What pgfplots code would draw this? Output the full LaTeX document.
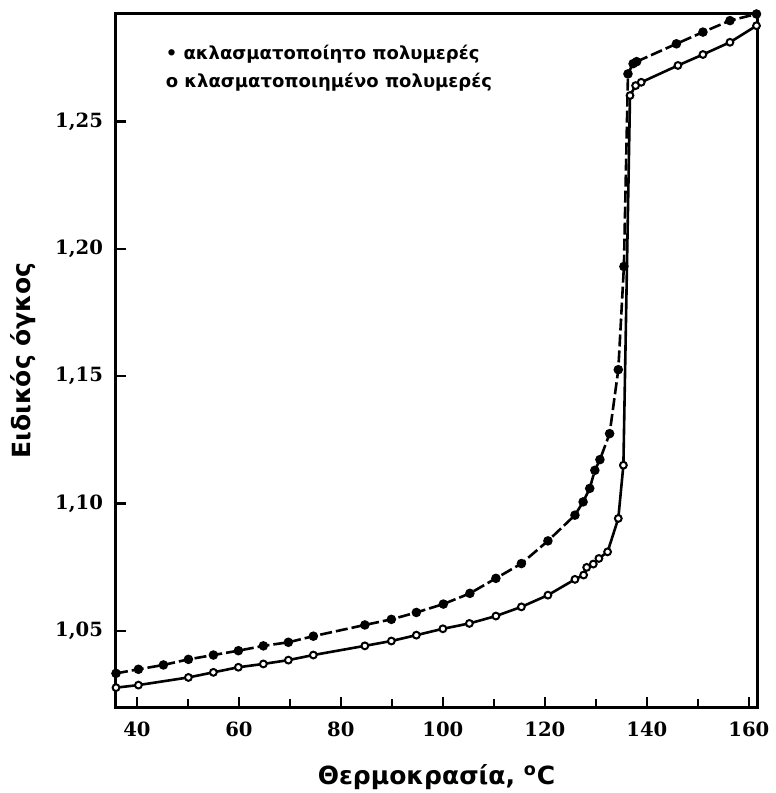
\documentclass[border=0pt]{standalone}
\usepackage{fontspec}
\setmainfont{DejaVu Sans}
\newfontfamily\tickfont{DejaVu Serif}
\usepackage{pgfplots}
\pgfplotsset{compat=1.18}
\begin{document}
\begin{tikzpicture}
\begin{axis}[
  scale only axis,
  width=320.5pt, height=346.5pt,
  xmin=35.9, xmax=161.6,
  ymin=1.0202, ymax=1.2922,
  xtick={40,60,...,160},
  minor xtick={50,70,...,150},
  ytick={1.05,1.10,...,1.26},
  tick align=inside,
  xtick pos=bottom, ytick pos=left,
  major tick length=5pt, minor tick length=4pt,
  every tick/.style={black, line width=1.2pt},
  axis line style={line width=1.5pt},
  /pgf/number format/assume math mode=true,
  y tick label style={/pgf/number format/use comma, /pgf/number format/fixed,
    /pgf/number format/fixed zerofill, /pgf/number format/precision=2, xshift=-3pt},
  tick label style={font=\tickfont\bfseries\fontsize{9.8}{11}\selectfont},
  x tick label style={yshift=-4pt},
  xlabel={\bfseries\fontsize{12.5}{14}\selectfont Θερμοκρασία, \textsuperscript{o}C},
  ylabel={\bfseries\fontsize{12.5}{14}\selectfont Ειδικός όγκος},
  xlabel style={yshift=-7pt},
  ylabel style={yshift=3pt},
  clip=false,
]

% ακλασματοποίητο (filled)
\addplot[black, line width=1.3pt, dash pattern=on 6pt off 2pt,
  mark=*, mark size=1.7pt, mark options={solid, fill=black}] coordinates {
  (35.9,1.0334) (40.3,1.0350) (45.2,1.0367) (50.1,1.0389) (55.0,1.0406)
  (59.9,1.0423) (64.8,1.0442) (69.7,1.0456) (74.6,1.0480) (84.7,1.0524)
  (89.9,1.0546) (94.8,1.0573) (100.1,1.0606) (105.3,1.0648) (110.4,1.0707)
  (115.4,1.0765) (120.6,1.0854) (125.9,1.0955) (127.5,1.1007) (128.8,1.1060)
  (129.8,1.1131) (130.8,1.1173) (132.7,1.1275) (134.4,1.1526) (135.5,1.1931)
  (136.3,1.2687) (137.3,1.2727) (138.0,1.2735) (145.8,1.2805) (151.0,1.2851)
  (156.3,1.2896) (161.5,1.2922)
};

% κλασματοποιημένο (open)
\addplot[black, line width=1.3pt,
  mark=*, mark size=1.7pt, mark options={solid, fill=white, line width=1pt}] coordinates {
  (35.9,1.0278) (40.3,1.0288) (50.1,1.0318) (55.0,1.0338) (59.9,1.0358)
  (64.8,1.0371) (69.7,1.0386) (74.6,1.0406) (84.7,1.0442) (89.9,1.0461)
  (94.8,1.0484) (100.0,1.0509) (105.2,1.0530) (110.4,1.0559) (115.4,1.0595)
  (120.6,1.0641) (125.9,1.0703) (127.6,1.0720) (128.2,1.0750) (129.5,1.0763)
  (130.6,1.0785) (132.3,1.0811) (134.4,1.0942) (135.4,1.1151) (136.7,1.2602)
  (137.8,1.2641) (138.9,1.2654) (146.1,1.2720) (151.0,1.2763) (156.3,1.2811)
  (161.5,1.2876)
};

\node[anchor=north west, align=left, inner sep=0pt,
  font=\bfseries\fontsize{9}{14}\selectfont]
  at (rel axis cs:0.077,0.955)
  {• ακλασματοποίητο πολυμερές\\ο κλασματοποιημένο πολυμερές};
\end{axis}
\pgfresetboundingbox
\path (current axis.south west) ++(-58pt,-43pt) coordinate (bbA);
\path (current axis.north east) ++(9.5pt,7pt) coordinate (bbB);
\useasboundingbox (bbA) rectangle (bbB);
\end{tikzpicture}
\end{document}
